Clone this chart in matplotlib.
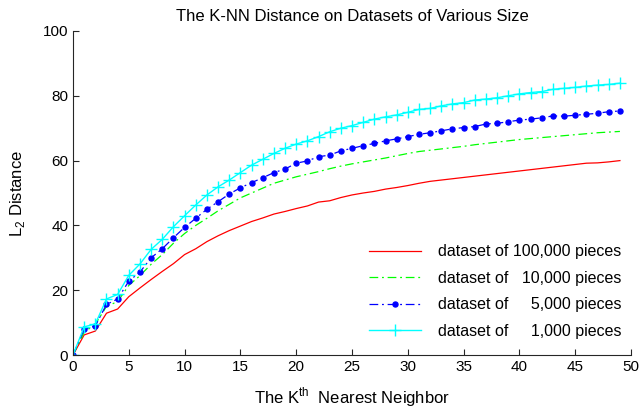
# K-NN distance vs k for datasets of different sizes
import numpy as np
import matplotlib
matplotlib.use("Agg")
import matplotlib.pyplot as plt

plt.rcParams['font.family'] = ['Liberation Sans', 'DejaVu Sans']
plt.rcParams['mathtext.fontset'] = 'custom'
plt.rcParams['mathtext.rm'] = 'Liberation Sans'

k = list(range(50))

d_100000 = [0, 6.2, 7.4, 12.9, 14.2, 18.0, 20.7, 23.3, 25.8, 28.2,
            31.0, 32.8, 35.0, 36.8, 38.4, 39.8, 41.2, 42.3, 43.5, 44.3,
            45.2, 46.0, 47.2, 47.6, 48.6, 49.4, 50.0, 50.5, 51.2, 51.7,
            52.3, 53.0, 53.6, 54.0, 54.4, 54.8, 55.2, 55.6, 56.0, 56.4,
            56.8, 57.2, 57.6, 58.0, 58.4, 58.8, 59.2, 59.3, 59.6, 60.0]

d_10000 = [0, 7.0, 9.5, 15.0, 16.5, 21.5, 24.5, 28.0, 31.0, 34.5,
           37.5, 40.0, 42.2, 44.5, 46.5, 48.5, 50.0, 51.5, 53.0, 54.0,
           55.0, 55.8, 56.6, 57.5, 58.3, 59.0, 59.6, 60.2, 60.8, 61.5,
           62.2, 62.8, 63.2, 63.6, 64.0, 64.4, 64.9, 65.3, 65.7, 66.1,
           66.5, 66.8, 67.1, 67.4, 67.7, 68.0, 68.3, 68.6, 68.8, 69.0]

d_5000 = [0, 7.9, 9.0, 15.6, 17.3, 22.8, 25.6, 30.0, 32.8, 36.2,
          39.4, 42.2, 45.0, 47.3, 49.7, 51.6, 53.2, 54.7, 56.3, 57.4,
          59.2, 59.9, 61.2, 61.7, 63.0, 63.8, 64.6, 65.3, 66.1, 66.7,
          67.4, 68.1, 68.6, 69.2, 69.8, 70.2, 70.5, 71.3, 71.5, 72.0,
          72.5, 72.8, 73.2, 73.8, 73.7, 74.0, 74.3, 74.6, 75.1, 75.3]

d_1000 = [0, 8.7, 9.6, 17.3, 18.7, 24.6, 28.1, 32.6, 35.7, 39.6,
          43.0, 46.3, 49.4, 51.9, 54.0, 56.3, 58.6, 60.4, 62.2, 63.8,
          65.1, 66.1, 67.4, 68.9, 70.0, 70.8, 71.8, 72.8, 73.5, 74.1,
          74.9, 75.8, 76.1, 76.9, 77.5, 77.9, 78.7, 79.0, 79.4, 80.0,
          80.6, 81.0, 81.3, 82.0, 82.3, 82.6, 83.0, 83.3, 83.5, 83.9]

labels = ['dataset of 100,000 pieces',
          'dataset of   10,000 pieces',
          'dataset of     5,000 pieces',
          'dataset of     1,000 pieces']

fig = plt.figure(figsize=(6.42, 4.12), dpi=100)
ax = fig.add_axes([0.1137, 0.1383, 0.8693, 0.7865])

ax.plot(k, d_100000, color='#ff0000', lw=0.9, label=labels[0])
ax.plot(k, d_10000, color='#00ff00', lw=0.9, ls=(0, (7, 3, 1.5, 3)), label=labels[1])
ax.plot(k, d_5000, color='#0000ff', lw=0.9, ls=(0, (7, 3, 1.5, 3)), marker='o', ms=3.6,
        label=labels[2])
ax.plot(k, d_1000, color='#00ffff', lw=1.0, marker='+', ms=8, mew=1.0, label=labels[3])

ax.set_xlim(0, 50)
ax.set_ylim(0, 100)
ax.set_xticks(range(0, 51, 5))
ax.set_yticks(range(0, 101, 20))
ax.spines['top'].set_visible(False)
ax.spines['right'].set_visible(False)
for s in ['left', 'bottom']:
    ax.spines[s].set_color('#262626')
    ax.spines[s].set_linewidth(0.8)
ax.tick_params(direction='in', length=4, width=0.8, colors='#262626', labelsize=11,
               labelcolor='black')

ax.set_title('The K-NN Distance on Datasets of Various Size', fontsize=12, pad=7)
ax.set_xlabel('The K$^{\\mathrm{th}}$  Nearest Neighbor', fontsize=12, labelpad=8)
ax.set_ylabel('L$_{\\mathrm{2}}$ Distance', fontsize=12, labelpad=11)

ax.legend(loc='lower right', bbox_to_anchor=(1.009, 0.006), frameon=False, fontsize=11.5,
          handlelength=3.25, handletextpad=1.1, labelspacing=0.72)

fig.savefig('out.png', dpi=100)
